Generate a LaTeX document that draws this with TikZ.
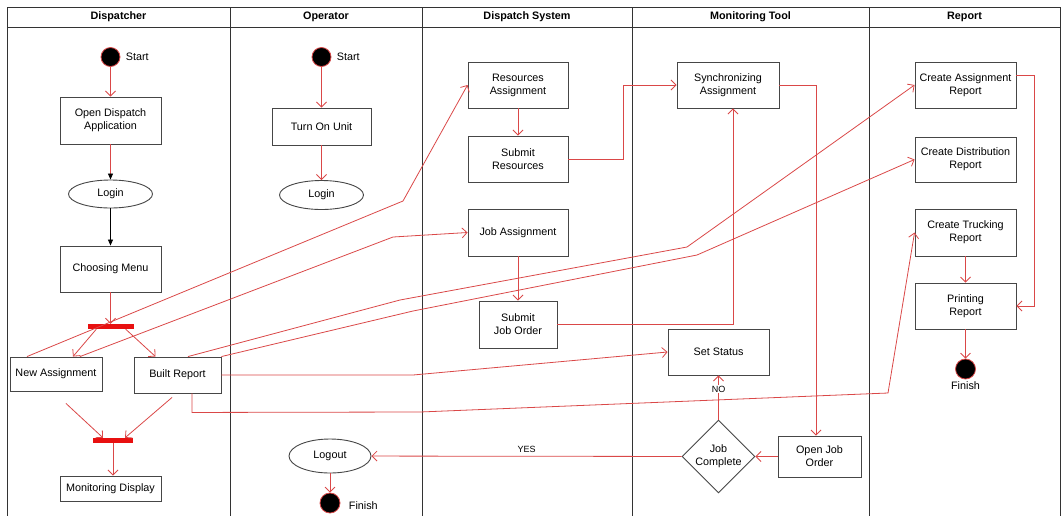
\documentclass[tikz,border=0pt]{standalone}
\usepackage{fontspec}
\setmainfont{Liberation Sans}
\usetikzlibrary{shapes.geometric,arrows.meta}
\definecolor{flowred}{RGB}{218,72,72}
\definecolor{barred}{RGB}{232,16,16}
\definecolor{boxgray}{RGB}{70,70,70}

\begin{document}
\begin{tikzpicture}[x=1pt,y=-1pt,
	font=\fontsize{10.8}{13}\selectfont,
	act/.style={draw=boxgray, line width=0.9pt, fill=white, align=center, inner sep=2pt},
	usecase/.style={ellipse, draw=boxgray, line width=0.9pt, fill=white, inner sep=0pt},
	dot/.style={circle, fill=black, draw=flowred, line width=0.8pt, minimum size=19pt, inner sep=0pt},
	bar/.style={fill=barred, inner sep=0pt, minimum height=5pt},
	flow/.style={draw=flowred, line width=0.8pt, -{Straight Barb[length=5pt,width=10pt]}},
	lane/.style={draw=black!80, line width=0.8pt}]
		
		\useasboundingbox (0,0) rectangle (1062,515);
		
		\foreach \l/\r/\t [count=\i] in {7/230/Dispatcher, 230/422/Operator, 422/632/Dispatch System, 632/869/Monitoring Tool, 869/1060/Report} {
			\draw[lane] (\l,520) |- (\r,7) -- (\r,520);
			\draw[lane] (\l,27) -- (\r,27);
			\node[font=\fontsize{10.8}{13}\selectfont\bfseries] (head\i) at ({(\l+\r)/2},17) {\t};
		}
		
		\node[dot, label={[xshift=2pt]right:Start}] (dstart) at (110.5,57) {};
		\node[act, minimum width=101pt, minimum height=47pt] (odapp) at (110.5,120.5) {Open Dispatch\\Application};
		\node[usecase, minimum width=84pt, minimum height=28pt] (dlogin) at (110.5,194) {Login};
		\node[act, minimum width=101pt, minimum height=46pt] (choose) at (110.5,269) {Choosing Menu};
		\node[bar, minimum width=46pt] (fork) at (110.5,326.5) {};
		\node[act, minimum width=92pt, minimum height=34pt] (newasg) at (56,374) {New Assignment};
		\node[act, minimum width=87pt, minimum height=36pt] (built) at (177.5,375) {Built Report};
		\node[bar, minimum width=40pt] (join) at (113,440.5) {};
		\node[act, minimum width=101pt, minimum height=25pt] (mondisp) at (110.5,488.5) {Monitoring Display};
		
		\node[dot, label={[xshift=2pt]right:Start}] (ostart) at (321.5,57) {};
		\node[act, minimum width=99pt, minimum height=37pt] (turnon) at (321.5,126.5) {Turn On Unit};
		\node[usecase, minimum width=84pt, minimum height=29pt] (ologin) at (321.5,195) {Login};
		\node[usecase, minimum width=82pt, minimum height=34pt] (logout) at (330,456) {Logout};
		\node[dot, minimum size=20pt, label={[xshift=5pt,yshift=-3pt]right:Finish}] (ofinish) at (330,503) {};
		
		\node[act, minimum width=100pt, minimum height=46pt] (resasg) at (518,85) {Resources\\Assignment};
		\node[act, minimum width=100pt, minimum height=46pt] (subres) at (518,159) {Submit\\Resources};
		\node[act, minimum width=100pt, minimum height=47pt] (jobasg) at (518,232.5) {Job Assignment};
		\node[act, minimum width=78pt, minimum height=47pt] (subjob) at (518,324.5) {Submit\\Job Order};
		
		\node[act, minimum width=102pt, minimum height=46pt] (sync) at (728,85) {Synchronizing\\Assignment};
		\node[act, minimum width=101pt, minimum height=46pt] (setstat) at (718.5,352) {Set Status};
		\node[diamond, aspect=1, draw=boxgray, line width=0.9pt, fill=white, minimum size=73pt, inner sep=0pt, align=center] (jobdone) at (718.5,456.5) {Job\\Complete};
		\node[act, minimum width=83pt, minimum height=41pt] (openjob) at (819.5,456.5) {Open Job\\Order};
		
		\node[act, minimum width=101pt, minimum height=46pt] (asgrep) at (965.5,85) {Create Assignment\\Report};
		\node[act, minimum width=101pt, minimum height=45pt] (disrep) at (965.5,159.5) {Create Distribution\\Report};
		\node[act, minimum width=101pt, minimum height=47pt] (trkrep) at (965.5,232.5) {Create Trucking\\Report};
		\node[act, minimum width=101pt, minimum height=46pt] (prnrep) at (965.5,306) {Printing\\Report};
		\node[dot, minimum size=20pt, label={[yshift=1pt]below:Finish}] (rfinish) at (965.5,369) {};
		
		\draw[flow] (dstart) -- (odapp);
		\draw[draw=flowred, line width=0.8pt, -{Triangle[length=6pt,width=5pt,color=black]}] (odapp) -- (dlogin);
		\draw[draw=black, line width=0.8pt, -{Triangle[length=6pt,width=5pt]}] (dlogin) -- (choose);
		\draw[flow] (choose) -- (fork);
		\draw[flow] ([xshift=9pt]fork.south west) -- ([xshift=17pt]newasg.north);
		\draw[flow] ([xshift=-8pt]fork.south east) -- ([xshift=-22pt]built.north);
		\draw[flow] ([shift={(10,12)}]newasg.south) -- ([xshift=-10pt]join.north);
		\draw[flow] ([shift={(-5.5,4)}]built.south) -- ([xshift=12pt]join.north);
		\draw[flow] (join.south) -- (join.south |- mondisp.north);
		
		\draw[flow] (ostart) -- (turnon);
		\draw[flow] (turnon) -- (ologin);
		\draw[flow] (logout) -- (ofinish);
		
		\draw[flow] ([xshift=-29pt]newasg.north) -- (403,201) -- (resasg.west);
		\draw[flow] ([xshift=24pt]newasg.north) -- (393,237) -- (jobasg.west);
		\draw[flow] ([xshift=10.5pt]built.north) -- (400,300) -- (687,247) -- (asgrep.west);
		\draw[flow] (built.north east) -- (413,311) -- (697,255) -- (disrep.west);
		\draw[flow] (built.east) -- (413,375) -- (setstat.west);
		\draw[flow] ([xshift=14.5pt]built.south) -- ++(0,19) -- (420,412) -- (888,393) -- (trkrep.west);
		
		\draw[flow] (resasg) -- (subres);
		\draw[flow] (subres.east) -- ++(55,0) |- (sync.west);
		\draw[flow] (jobasg) -- (subjob);
		\draw[flow] (subjob.east) -| ([xshift=5pt]sync.south);
		\draw[flow] (sync.east) -| ([xshift=-3.5pt]openjob.north);
		\draw[flow] (openjob) -- (jobdone);
		\draw[flow] (jobdone) -- node[pos=0.69, fill=white, inner sep=1pt, font=\fontsize{9}{11}\selectfont] {NO} (setstat);
		\draw[flow] (jobdone) -- node[above, pos=0.5, font=\fontsize{9}{11}\selectfont] {YES} (logout);
		
		\draw[flow] ([yshift=10pt]asgrep.east) -- ++(18,0) |- (prnrep.east);
		\draw[flow] (trkrep) -- (prnrep);
		\draw[flow] (prnrep) -- (rfinish);
		
	\end{tikzpicture}
\end{document}
